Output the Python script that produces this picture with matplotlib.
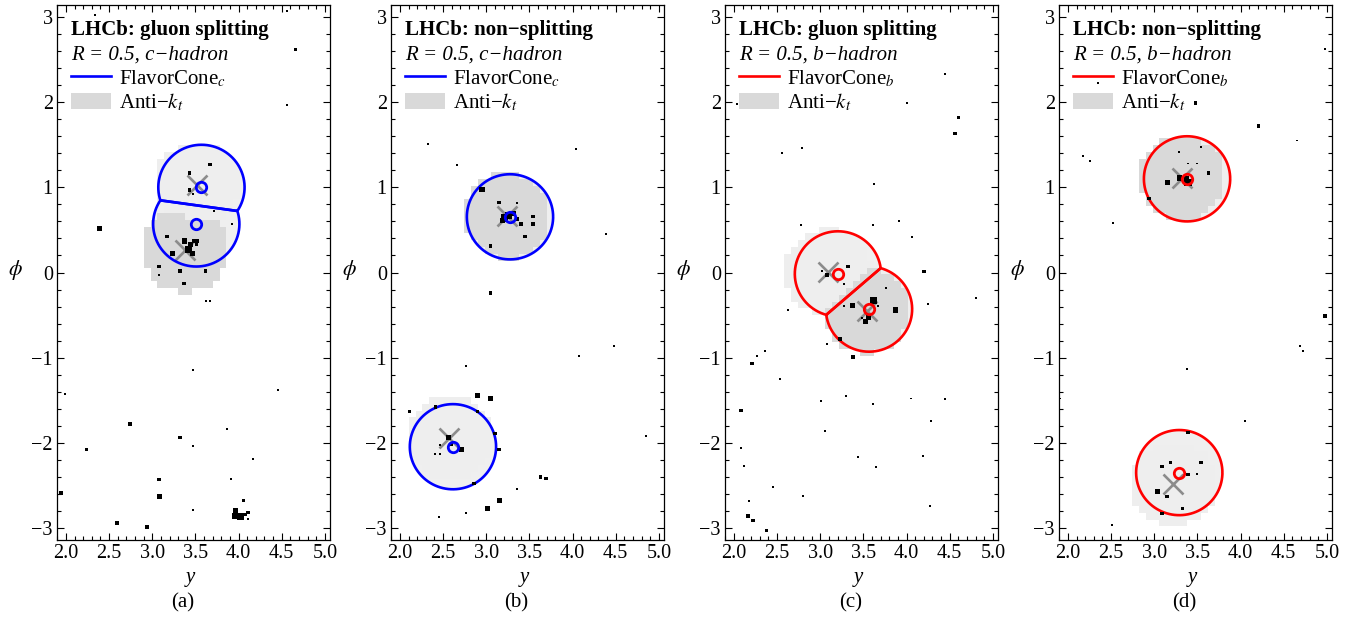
import numpy as np
import matplotlib
matplotlib.use('Agg')
import matplotlib.pyplot as plt
from matplotlib.lines import Line2D
from matplotlib.patches import Patch, Polygon
from matplotlib.colors import ListedColormap

plt.rcParams['font.family'] = ['Liberation Serif', 'DejaVu Serif']
plt.rcParams['mathtext.fontset'] = 'stix'

R = 0.5

titles = ['LHCb: gluon splitting', 'LHCb: non\u2212splitting',
          'LHCb: gluon splitting', 'LHCb: non\u2212splitting']
flavours = ['c', 'c', 'b', 'b']
captions = ['(a)', '(b)', '(c)', '(d)']
cone_colors = ['#0000ff', '#0000ff', '#ff0000', '#ff0000']

# jet axes (anti-kt), first = darker shaded jet
jets_a = [(3.38, 0.27), (3.52, 1.03)]
jets_b = [(3.24, 0.665), (2.57, -1.94)]
jets_c = [(3.54, -0.45), (3.09, 0.01)]
jets_d = [(3.32, 1.11), (3.22, -2.48)]

# heavy hadron positions = flavour cone centres
hadrons_a = [(3.51, 0.57), (3.57, 1.00)]
hadrons_b = [(3.275, 0.654), (2.614, -2.046)]
hadrons_c = [(3.565, -0.43), (3.205, -0.016)]
hadrons_d = [(3.38, 1.10), (3.29, -2.35)]

# particles: rapidity, azimuth, size class (1 tiny .. 4 big)
pa_y = [2.34, 4.56, 4.66, 4.56, 2.15, 2.39, 3.67, 3.43, 3.43, 3.47, 3.72, 3.92,
        3.17, 3.37, 3.42, 3.47, 3.23, 3.48, 3.52, 3.51, 3.44,
        3.08, 3.08, 3.32, 3.62, 3.37, 3.62, 3.67, 3.47, 1.99, 4.46, 2.74, 3.87,
        3.32, 3.47, 2.24, 4.17, 3.08, 3.91, 3.08, 1.94, 3.47, 4.06, 4.11,
        3.96, 4.02, 3.95, 4.08, 4.11, 2.59, 2.94]
pa_phi = [3.02, 3.07, 2.62, 1.97, 2.07, 0.52, 1.27, 1.17, 0.97, 0.92, 0.72, 0.57,
          0.42, 0.37, 0.27, 0.22, 0.22, 0.37, 0.37, 0.33, 0.33,
          0.07, -0.03, 0.02, 0.02, -0.13, -0.33, -0.33, -1.14, -1.43, -1.38, -1.78, -1.84,
          -1.94, -2.04, -2.08, -2.19, -2.43, -2.43, -2.63, -2.59, -2.79, -2.68, -2.82,
          -2.80, -2.87, -2.86, -2.84, -2.90, -2.94, -2.99]
pa_s = [1, 1, 2, 1, 2, 3, 2, 2, 2, 1, 1, 1,
        2, 3, 4, 3, 3, 2, 2, 2, 3,
        2, 1, 2, 2, 2, 1, 1, 1, 1, 1, 2, 1,
        2, 1, 2, 1, 2, 1, 3, 2, 1, 2, 2,
        3, 4, 3, 2, 1, 2, 2]

pb_y = [2.32, 2.66, 2.95, 3.15, 3.36, 3.26, 3.21, 3.31, 3.36, 3.40, 3.54, 3.54, 3.45,
        3.05, 3.19, 4.04, 4.39, 3.05, 4.07, 4.48, 4.85,
        2.56, 2.60, 2.71, 2.46, 2.41, 2.46, 2.11, 2.41, 2.90, 3.05, 2.90, 3.10, 3.15,
        2.86, 3.15, 3.01, 3.36, 3.63, 3.69, 2.77, 2.45, 2.76]
pb_phi = [1.51, 1.26, 0.97, 0.82, 0.82, 0.67, 0.64, 0.69, 0.63, 0.57, 0.66, 0.57, 0.42,
          0.31, 0.61, 1.45, 0.45, -0.24, -0.98, -0.86, -1.92,
          -1.94, -2.02, -2.08, -2.03, -2.13, -2.13, -1.63, -1.58, -1.44, -1.48, -1.63, -1.89, -2.08,
          -2.48, -2.68, -2.77, -2.54, -2.40, -2.42, -1.10, -2.87, -2.83]
pb_s = [1, 1, 3, 2, 1, 4, 4, 3, 2, 2, 2, 2, 2,
        2, 3, 1, 1, 2, 1, 1, 1,
        3, 2, 3, 1, 1, 1, 2, 2, 3, 3, 2, 2, 2,
        2, 3, 3, 1, 2, 2, 1, 1, 1]

pc_y = [2.03, 2.56, 2.79, 4.45, 4.60, 4.01, 4.56, 3.62, 2.78, 3.61, 3.91, 4.06, 4.20,
        3.32, 3.08, 3.02, 3.27, 2.63, 3.76, 3.37, 3.27, 3.62, 3.67, 3.56, 3.52, 3.48,
        3.87, 3.23, 3.08, 3.38, 4.80, 4.25,
        2.27, 2.36, 2.21, 2.53, 3.01, 3.30, 2.08, 3.05, 3.61, 4.05, 4.45, 4.28, 4.19,
        3.44, 3.65, 2.12, 2.45, 2.80, 2.17, 2.16, 2.22, 2.38, 4.27, 2.08]
pc_phi = [1.98, 1.40, 1.46, 2.33, 1.82, 1.99, 1.63, 1.04, 0.56, 0.56, 0.61, 0.42, 0.01,
          0.07, -0.03, 0.02, -0.13, -0.44, -0.18, -0.39, -0.39, -0.33, -0.39, -0.53, -0.58, -0.53,
          -0.44, -0.78, -0.84, -0.99, -0.30, -0.37,
          -0.98, -0.92, -1.07, -1.25, -1.51, -1.45, -1.62, -1.86, -1.54, -1.48, -1.49, -1.74, -2.15,
          -2.17, -2.28, -2.27, -2.52, -2.62, -2.68, -2.86, -2.91, -3.03, -2.74, -2.06]
pc_s = [1, 1, 1, 1, 2, 1, 2, 1, 1, 1, 1, 1, 2,
        2, 2, 1, 1, 1, 1, 3, 1, 4, 1, 3, 3, 1,
        3, 2, 1, 2, 1, 1,
        1, 1, 2, 1, 1, 1, 2, 1, 1, 1, 1, 1, 1,
        1, 1, 1, 1, 1, 1, 2, 2, 2, 1, 1]

pd_y = [3.29, 3.54, 3.39, 3.49, 3.63, 3.29, 3.39, 3.37, 3.15, 2.94,
        3.39, 3.09, 3.19, 3.54, 3.39, 3.49, 3.04, 3.15, 3.33, 3.09, 2.51,
        2.35, 2.17, 2.26, 2.52, 3.48, 4.21, 4.65, 4.98, 3.96, 4.98, 4.69, 4.72,
        3.38, 4.05, 1.91]
pd_phi = [1.42, 1.47, 1.28, 1.28, 1.17, 1.11, 1.06, 1.10, 1.06, 0.87,
          -1.88, -2.28, -2.23, -2.23, -2.37, -2.37, -2.57, -2.63, -2.77, -2.83, -2.97,
          2.23, 1.37, 1.31, 0.58, 1.99, 1.72, 1.55, 2.63, 2.88, -0.51, -0.86, -0.92,
          -1.13, -1.74, -1.48]
pd_s = [1, 1, 1, 1, 2, 3, 4, 3, 3, 2,
        2, 2, 2, 2, 2, 1, 3, 2, 2, 2, 1,
        1, 1, 1, 1, 2, 2, 1, 1, 1, 2, 1, 1,
        1, 1, 1]

panels = [
    (jets_a, hadrons_a, pa_y, pa_phi, pa_s),
    (jets_b, hadrons_b, pb_y, pb_phi, pb_s),
    (jets_c, hadrons_c, pc_y, pc_phi, pc_s),
    (jets_d, hadrons_d, pd_y, pd_phi, pd_s),
]

size_pt = {1: 1.4, 2: 2.5, 3: 3.7, 4: 5.2}


def cone_outline(c, others):
    # circle of radius R, cut by the chord it shares with an overlapping cone
    cx, cy = c
    for o in others:
        d = np.hypot(o[0] - cx, o[1] - cy)
        if d < 2 * R:
            base = np.arctan2(o[1] - cy, o[0] - cx)
            a = np.arccos(d / (2 * R))
            t = np.linspace(base + a, base + 2 * np.pi - a, 300)
            x = cx + R * np.cos(t)
            y = cy + R * np.sin(t)
            return np.append(x, x[0]), np.append(y, y[0])
    t = np.linspace(0, 2 * np.pi, 300)
    return cx + R * np.cos(t), cy + R * np.sin(t)


def ghost_area(ax, jets):
    # pixelated anti-kt catchment areas
    step = 0.08
    xe = np.arange(1.86, 5.12, step)
    ye = np.arange(-np.pi, np.pi + step, step)
    xc, yc = np.meshgrid((xe[:-1] + xe[1:]) / 2, (ye[:-1] + ye[1:]) / 2)
    d = np.array([np.hypot(xc - j[0], yc - j[1]) for j in jets])
    owner = np.argmin(d, axis=0).astype(float) + 1
    owner[np.min(d, axis=0) > R] = np.nan
    ax.pcolormesh(xe, ye, np.ma.masked_invalid(owner), cmap=ListedColormap(['#d9d9d9', '#eeeeee']),
                  vmin=0.5, vmax=2.5, zorder=2, shading='flat', edgecolors='none')


fig = plt.figure(figsize=(13.64, 6.18), dpi=100)
lefts = [57, 391, 725, 1059]
fs = 15

for i, (jets, hads, py, pphi, ps) in enumerate(panels):
    ax = fig.add_axes([lefts[i] / 1364, 1 - 540 / 618, 273 / 1364, 535 / 618])
    col = cone_colors[i]
    for k, h in enumerate(hads):
        others = [o for m, o in enumerate(hads) if m != k]
        x, y = cone_outline(h, others)
        ax.add_patch(Polygon(np.column_stack([x, y]), closed=True, facecolor='#efefef',
                             edgecolor='none', zorder=1))
        ax.plot(x, y, color=col, lw=1.9, zorder=4, solid_capstyle='butt')
    ghost_area(ax, jets)
    jx = [j[0] for j in jets]
    jy = [j[1] for j in jets]
    ax.plot(jx, jy, 'x', ms=15, mew=1.9, color='#8c8c8c', zorder=3, linestyle='none')
    ax.scatter(py, pphi, s=[size_pt[s] ** 2 for s in ps], marker='s', c='black',
               linewidths=0, zorder=5)
    hx = [h[0] for h in hads]
    hy = [h[1] for h in hads]
    ax.plot(hx, hy, 'o', ms=7.5, mfc='none', mec=col, mew=2, zorder=6, linestyle='none')

    ax.set_xlim(1.896, 5.06)
    ax.set_ylim(-np.pi, np.pi)
    ax.set_xticks([2.0, 2.5, 3.0, 3.5, 4.0, 4.5, 5.0])
    ax.set_xticklabels(['2.0', '2.5', '3.0', '3.5', '4.0', '4.5', '5.0'])
    ax.set_xticks(np.arange(1.9, 5.06, 0.1), minor=True)
    ax.set_yticks([-3, -2, -1, 0, 1, 2, 3])
    ax.set_yticklabels(['\u22123', '\u22122', '\u22121', '0', '1', '2', '3'])
    ax.set_yticks(np.arange(-3.0, 3.1, 0.2), minor=True)
    ax.tick_params(which='both', direction='in', top=True, right=True, labelsize=14.5,
                   width=0.8, pad=3)
    ax.tick_params(which='major', length=5)
    ax.tick_params(which='minor', length=3)
    for sp in ax.spines.values():
        sp.set_linewidth(0.9)

    ax.text(0.051, 0.953, titles[i], transform=ax.transAxes, fontsize=fs,
            fontweight='bold', va='center', ha='left', zorder=8)
    ax.text(0.051, 0.906, 'R = 0.5, ' + flavours[i] + '\u2212hadron', transform=ax.transAxes,
            fontsize=fs, style='italic', va='center', ha='left', zorder=8)
    handles = [Line2D([], [], color=col, lw=1.9),
               Patch(facecolor='#d9d9d9', edgecolor='none')]
    labels = ['FlavorCone$_{' + flavours[i] + '}$', 'Anti\u2212$k_t$']
    leg = ax.legend(handles, labels, loc='upper left', bbox_to_anchor=(0.051, 0.882),
                    frameon=False, fontsize=fs, handlelength=1.9, handleheight=0.8,
                    handletextpad=0.4, labelspacing=0.12, borderaxespad=0, borderpad=0)
    leg.set_zorder(8)

    ax.text(0.487, -0.071, 'y', transform=ax.transAxes, fontsize=fs, style='italic',
            ha='center', va='center')
    ax.text(0.46, -0.118, captions[i], transform=ax.transAxes, fontsize=fs,
            ha='center', va='center')
    ax.text(-0.154, 0.505, r'$\phi$', transform=ax.transAxes, fontsize=15.5,
            ha='center', va='center')

fig.savefig('out.png', dpi=100)
